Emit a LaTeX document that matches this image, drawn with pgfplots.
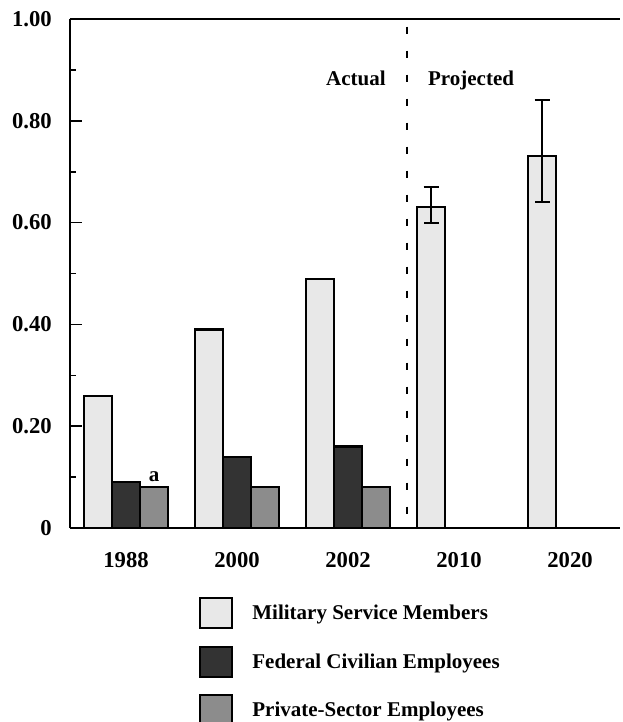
\documentclass[border=0pt]{standalone}
\usepackage{pgfplots}
\pgfplotsset{compat=1.18}
\usepackage{fontspec}
\setmainfont{Liberation Serif}
\definecolor{lightbar}{RGB}{232,232,232}
\definecolor{darkbar}{RGB}{51,51,51}
\definecolor{midbar}{RGB}{140,140,140}
\begin{document}
\begin{tikzpicture}
\begin{axis}[
  scale only axis, width=412.5pt, height=381.75pt,
  xmin=-0.505, xmax=4.45, ymin=0, ymax=1,
  axis x line=box, axis y line*=left,
  axis line style={line width=1.8pt},
  ybar=0pt, bar width=21pt,
  xtick={0,1,2,3,4},
  xticklabels={1988,2000,2002,2010,2020},
  major x tick style={draw=none},
  ytick={0,0.2,0.4,0.6,0.8,1},
  yticklabels={0,0.20,0.40,0.60,0.80,1.00},
  minor ytick={0.1,0.3,0.5,0.7,0.9},
  ytick pos=left,
  tick align=inside,
  major tick length=9pt, minor tick length=4.5pt,
  every tick/.style={line width=1.2pt, black},
  /pgf/number format/assume math mode=true,
  tick label style={font=\fontsize{17}{20}\selectfont\bfseries},
  yticklabel style={anchor=east, inner sep=0pt, xshift=-13.5pt},
  xticklabel style={anchor=north, inner sep=0pt, yshift=-18pt},
  legend image code/.code={\draw[#1, line width=1.6pt] (0pt,-11.25pt) rectangle (24pt,11.25pt);},
  legend style={at={(axis description cs:0.2345,-0.1356)}, anchor=north west,
    draw=none, fill=none, inner sep=0pt, row sep=12.2pt,
    font=\fontsize{15.75}{18}\selectfont\bfseries,
    nodes={inner sep=0pt},
    /tikz/every odd column/.append style={column sep=14.25pt}},
  legend cell align=left,
  clip=false,
]
\addplot[fill=lightbar, draw=black, line width=1.6pt,
  error bars/.cd, y dir=both, y explicit,
  error bar style={line width=1.5pt, black},
  error mark options={rotate=90, mark size=5.6pt, line width=1.5pt, black}]
  coordinates {(0,0.26) (1,0.39) (2,0.49) (3,0.63) += (0,0.04) -= (0,0.03) (4,0.73) += (0,0.11) -= (0,0.09)};
\addlegendentry{Military Service Members}
\addplot[fill=darkbar, draw=black, line width=1.6pt]
  coordinates {(0,0.09) (1,0.14) (2,0.16)};
\addlegendentry{Federal Civilian Employees}
\addplot[fill=midbar, draw=black, line width=1.6pt]
  coordinates {(0,0.08) (1,0.08) (2,0.08)};
\addlegendentry{Private-Sector Employees}
\draw[line width=1.5pt, dash pattern=on 5.25pt off 12.75pt] (axis cs:2.53,0.985) -- (axis cs:2.53,0);
\node[font=\fontsize{15.75}{18}\selectfont\bfseries, anchor=base east, inner sep=0pt]
  at ([xshift=-15.75pt]axis cs:2.53,0.869) {Actual};
\node[font=\fontsize{15.75}{18}\selectfont\bfseries, anchor=base west, inner sep=0pt]
  at ([xshift=15.75pt]axis cs:2.53,0.869) {Projected};
\node[font=\fontsize{15.75}{18}\selectfont\bfseries, anchor=base, inner sep=0pt]
  at ([xshift=21pt,yshift=4.5pt]axis cs:0,0.08) {a};
\end{axis}
\pgfresetboundingbox
\path[use as bounding box] (-52.5pt,-145.5pt) rectangle (414pt,396pt);
\end{tikzpicture}
\end{document}
